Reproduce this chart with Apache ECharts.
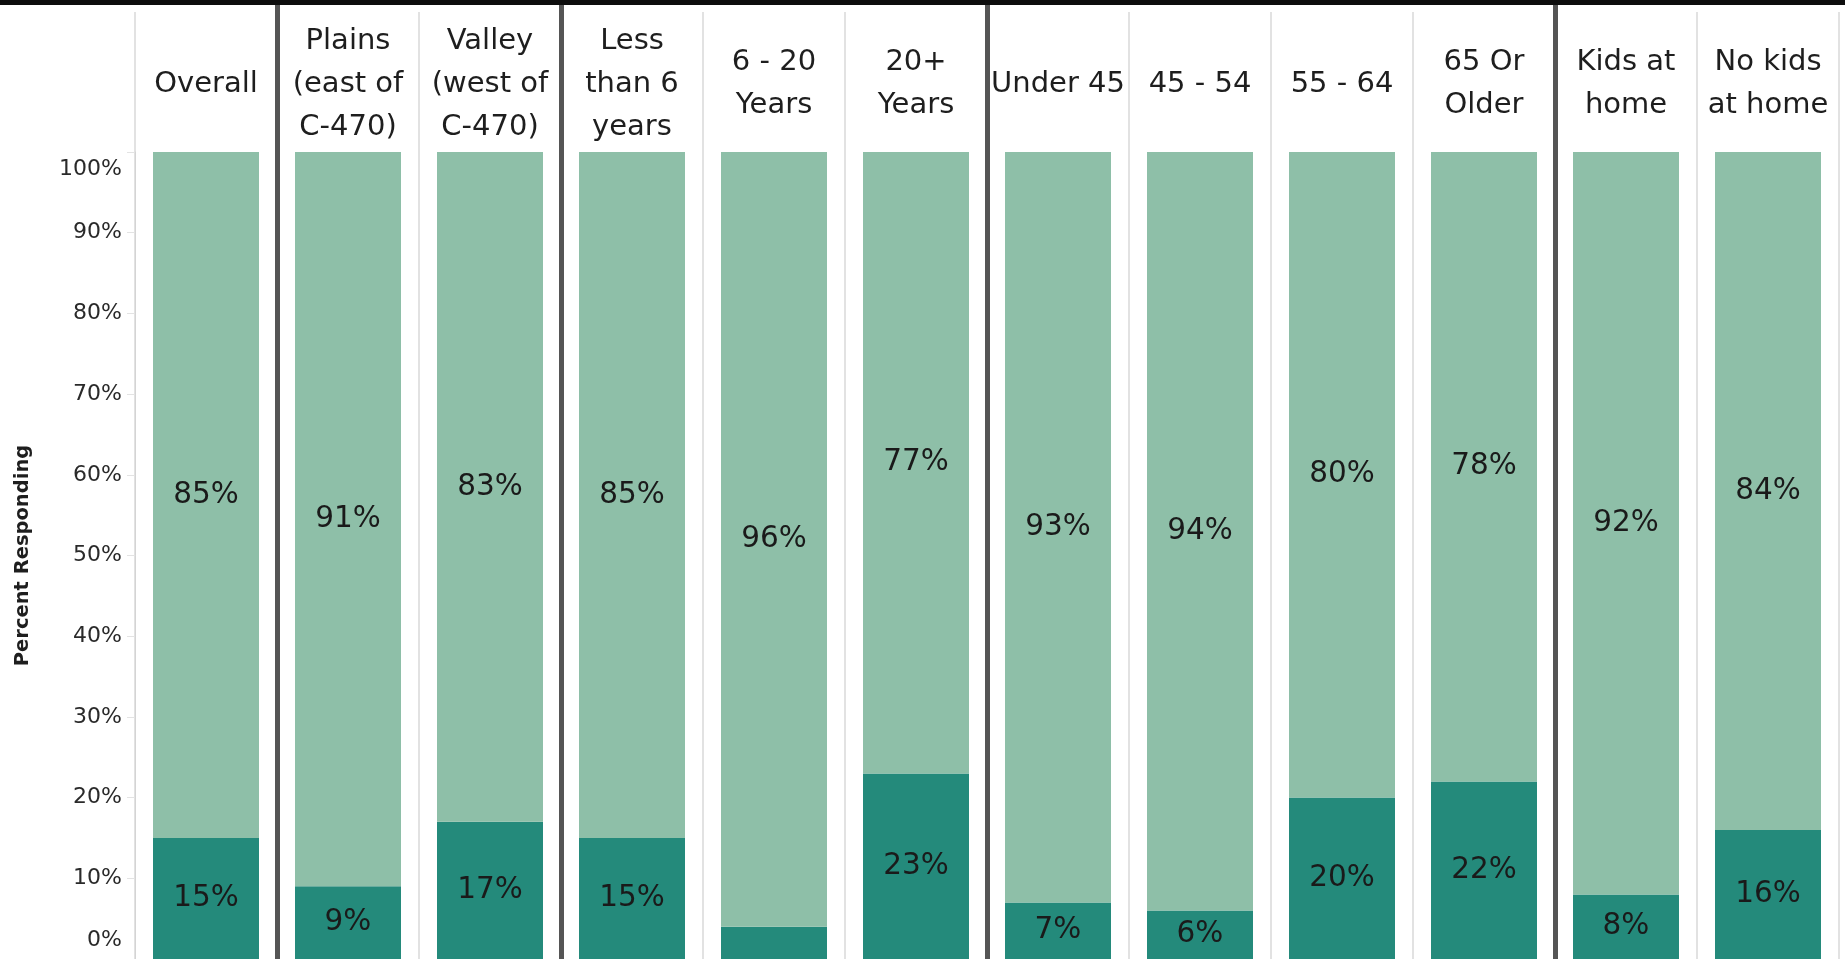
<!DOCTYPE html>
<html>
<head>
<meta charset="utf-8">
<script src="https://cdn.jsdelivr.net/npm/echarts@6/dist/echarts.min.js"></script>
<style>
  html, body { margin: 0; padding: 0; background: #fff; }
  #main { width: 1845px; height: 959px; }
</style>
</head>
<body>
<div id="main"></div>
<script>
// column headers (line breaks as in the picture)
var categories = [
	'Overall',
	'Plains\n(east of\nC-470)',
	'Valley\n(west of\nC-470)',
	'Less\nthan 6\nyears',
	'6 - 20\nYears',
	'20+\nYears',
	'Under 45',
	'45 - 54',
	'55 - 64',
	'65 Or\nOlder',
	'Kids at\nhome',
	'No kids\nat home'
];
// bottom (dark) and top (light) segments, percent
var darkValues  = [15, 9, 17, 15, 4, 23, 7, 6, 20, 22, 8, 16];
var lightValues = [85, 91, 83, 85, 96, 77, 93, 94, 80, 78, 92, 84];
// how many columns in each group, thick line between groups
var groupSizes = [1, 2, 3, 4, 2];

var FONT = '"DejaVu Sans"';
var DARK = '#248a7b';
var LIGHT = '#8ebfa8';

// group boundaries as column indexes
var bounds = [];
var acc = 0;
for (var i = 0; i < groupSizes.length - 1; i++) {
	acc += groupSizes[i];
	bounds.push({xAxis: acc});
}

var chart = echarts.init(document.getElementById('main'));

function pctLabel(p) {
	if (p.value < 5) return '';   // too small, tableau hides it
	return p.value + '%';
}

var option = {
	animation: false,
	textStyle: {fontFamily: FONT},
	graphic: [
		{type: 'rect', left: 0, top: 0, z: 100, shape: {width: 1845, height: 5}, style: {fill: '#0d0d0d'}}
	],
	grid: [
		{left: 135, right: 6, top: 152, bottom: -3},   // bars
		{left: 135, right: 6, top: 12, bottom: -3},    // thin column lines
		{left: 135, right: 6, top: 0, bottom: -3}      // group separators
	],
	xAxis: [
		{
			gridIndex: 0,
			type: 'category',
			position: 'top',
			data: categories,
			axisLine: {show: true, lineStyle: {color: '#d4d4d4', width: 1}},
			axisTick: {show: false},
			splitLine: {show: false},
			axisLabel: {
				interval: 0,
				margin: 68,
				verticalAlign: 'middle',
				fontFamily: FONT,
				fontSize: 29,
				lineHeight: 43,
				color: '#1e1e1e'
			}
		},
		{
			gridIndex: 1,
			type: 'value',
			min: 0,
			max: categories.length,
			interval: 1,
			axisLine: {show: false},
			axisTick: {show: false},
			axisLabel: {show: false},
			splitLine: {show: true, lineStyle: {color: '#d9d9d9', width: 1.5}}
		},
		{
			gridIndex: 2,
			type: 'value',
			min: 0,
			max: categories.length,
			show: false
		}
	],
	yAxis: [
		{
			gridIndex: 0,
			type: 'value',
			min: 0,
			max: 100,
			interval: 10,
			name: 'Percent Responding',
			nameLocation: 'middle',
			nameGap: 102,
			nameTextStyle: {fontFamily: FONT, fontSize: 19.5, fontWeight: 'bold', color: '#1e1e1e'},
			axisLine: {show: true, lineStyle: {color: '#d4d4d4'}},
			axisTick: {show: true, length: 8, lineStyle: {color: '#e3e3e3'}},
			splitLine: {show: false},
			axisLabel: {
				margin: 13,
				fontFamily: FONT,
				fontSize: 22,
				color: '#2a2a2a',
				formatter: function (v) {
					if (v === 100) return '{top|100%}';
					if (v === 0) return '{bot|0%}';
					return v + '%';
				},
				rich: {
					top: {fontFamily: FONT, fontSize: 22, color: '#2a2a2a', padding: [34, 0, 0, 0]},
					bot: {fontFamily: FONT, fontSize: 22, color: '#2a2a2a', padding: [0, 0, 38, 0]}
				}
			}
		},
		{gridIndex: 1, type: 'value', min: 0, max: 1, show: false},
		{gridIndex: 2, type: 'value', min: 0, max: 1, show: false}
	],
	series: [
		{
			name: 'dark',
			type: 'bar',
			stack: 'total',
			xAxisIndex: 0,
			yAxisIndex: 0,
			barWidth: 106,
			data: darkValues,
			itemStyle: {color: DARK},
			label: {show: true, position: 'inside', formatter: pctLabel, fontFamily: FONT, fontSize: 29.5, color: '#1a1a1a'},
			z: 3
		},
		{
			name: 'light',
			type: 'bar',
			stack: 'total',
			xAxisIndex: 0,
			yAxisIndex: 0,
			barWidth: 106,
			data: lightValues,
			itemStyle: {color: LIGHT},
			label: {show: true, position: 'inside', formatter: pctLabel, fontFamily: FONT, fontSize: 29.5, color: '#1a1a1a'},
			z: 3
		},
		{
			name: 'groups',
			type: 'line',
			xAxisIndex: 2,
			yAxisIndex: 2,
			data: [],
			silent: true,
			markLine: {
				silent: true,
				symbol: 'none',
				animation: false,
				label: {show: false},
				lineStyle: {color: '#555555', width: 5, type: 'solid'},
				data: bounds
			},
			z: 5
		}
	]
};

chart.setOption(option);
</script>
</body>
</html>
